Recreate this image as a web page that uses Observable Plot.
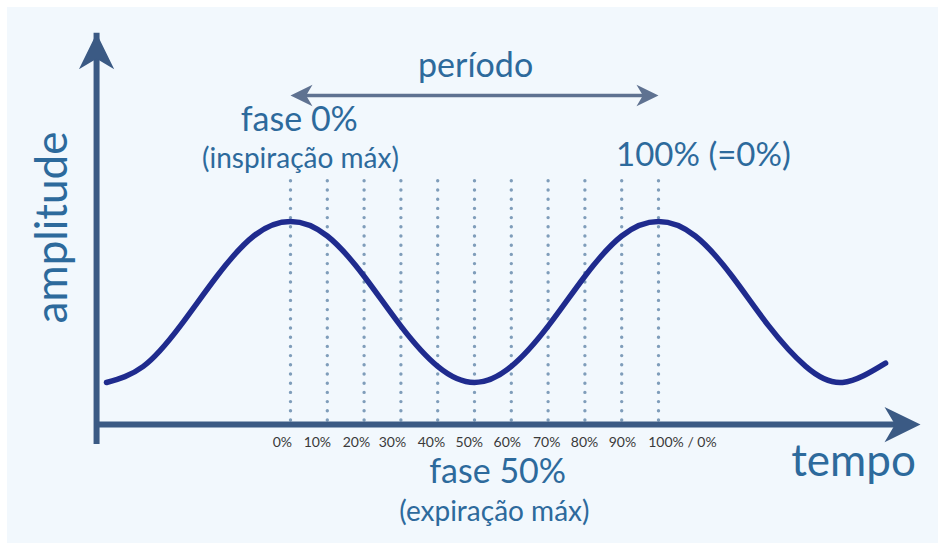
<!DOCTYPE html>
<html><head><meta charset="utf-8">
<script src="https://cdn.jsdelivr.net/npm/d3@7"></script>
<script src="https://cdn.jsdelivr.net/npm/@observablehq/plot@0.6"></script>
<style>
html,body{margin:0;padding:0;background:#fff;}
#chart svg{display:block;}
</style></head><body><div id="chart"></div>
<script>
// Sampled waveform: phase (% of one period, peak at 0% and 100%) and normalized amplitude (trough 0, peak 1)
const phases    = [-50, -40, -30, -20, -10, 0, 10, 20, 30, 40, 50, 60, 70, 80, 90, 100, 110, 120, 130, 140, 150, 161.7];
const amplitude = [0, 0.10, 0.35, 0.66, 0.91, 1, 0.91, 0.66, 0.35, 0.10, 0, 0.10, 0.35, 0.66, 0.91, 1, 0.91, 0.66, 0.35, 0.10, 0, 0.12];

// Phase guides and their labels
const tickPhases  = [0, 10, 20, 30, 40, 50, 60, 70, 80, 90, 100];
const tickLabels  = ["0%", "10%", "20%", "30%", "40%", "50%", "60%", "70%", "80%", "90%", "100% / 0%"];
const labelPhases = [-2.2, 7.3, 17.9, 27.7, 38.3, 48.6, 58.9, 69.6, 79.9, 90.2, 106.5];
const guideSpan   = [-0.236, 1.267];

// Axis frame (phase / amplitude units)
const xAxisSpan = [-52.7, 171.2];
const yAxisSpan = [-0.261, 2.17];
const periodSpan = [0, 100];
const periodLevel = 1.783;

// Annotations
const annTexts  = ["período", "fase 0%", "(inspiração máx)", "100% (=0%)", "fase 50%", "(expiração máx)", "tempo"];
const annPhase  = [50.3, 2.4, 2.7, 112.2, 56.3, 55.4, 153];
const annLevel  = [1.90, 1.565, 1.335, 1.342, -0.627, -0.863, -0.578];
const annSize   = [34, 34, 28, 33, 34, 28, 44];
const yTitle = "amplitude";

const wave = phases.map((p, i) => ({phase: p, amp: amplitude[i]}));
const ticks = tickLabels.map((t, i) => ({phase: labelPhases[i], label: t}));
const anns = annTexts.map((t, i) => ({text: t, phase: annPhase[i], level: annLevel[i], size: annSize[i]}));

const stealth = {
  draw(ctx, size) {
    const r = Math.sqrt(size / Math.PI);
    ctx.moveTo(0, -r);
    ctx.lineTo(0.98 * r, r);
    ctx.lineTo(0, 0.42 * r);
    ctx.lineTo(-0.98 * r, r);
    ctx.closePath();
  }
};

const axisColor = "#3b5a84";
const textColor = "#2d6a9c";

const chart = Plot.plot({
  width: 938,
  height: 544,
  margin: 0,
  x: {type: "linear", domain: [0, 100], range: [290, 658], axis: null},
  y: {type: "linear", domain: [0, 1], range: [382, 221], axis: null},
  style: {fontFamily: "Lato, sans-serif"},
  marks: [
    // dotted phase guides
    Plot.ruleX(tickPhases, {x: d => d, y1: guideSpan[0], y2: guideSpan[1], stroke: "#7f9dba", strokeWidth: 3.4, strokeDasharray: "0 9.2", strokeLinecap: "round"}),
    // axes
    Plot.ruleX([xAxisSpan[0]], {x: d => d, y1: yAxisSpan[0], y2: yAxisSpan[1], stroke: axisColor, strokeWidth: 6, insetTop: 20}),
    Plot.ruleY([yAxisSpan[0]], {y: d => d, x1: xAxisSpan[0], x2: xAxisSpan[1], stroke: axisColor, strokeWidth: 6, insetRight: 20}),
    Plot.dot([{x: xAxisSpan[0], y: yAxisSpan[1]}], {x: "x", y: "y", r: 18, symbol: stealth, fill: axisColor, stroke: "none", dy: 18, rotate: 0}),
    Plot.dot([{x: xAxisSpan[1], y: yAxisSpan[0]}], {x: "x", y: "y", r: 18, symbol: stealth, fill: axisColor, stroke: "none", dx: -18, rotate: 90}),
    // period arrow
    Plot.ruleY([periodLevel], {y: d => d, x1: periodSpan[0], x2: periodSpan[1], stroke: "#5f7291", strokeWidth: 3.5, insetLeft: 10, insetRight: 10}),
    Plot.dot([{x: periodSpan[0], y: periodLevel}], {x: "x", y: "y", r: 11, symbol: stealth, fill: "#5f7291", stroke: "none", dx: 11, rotate: -90}),
    Plot.dot([{x: periodSpan[1], y: periodLevel}], {x: "x", y: "y", r: 11, symbol: stealth, fill: "#5f7291", stroke: "none", dx: -11, rotate: 90}),
    // waveform
    Plot.line(wave, {x: "phase", y: "amp", curve: "natural", stroke: "#1f2b8e", strokeWidth: 5.5, strokeLinecap: "round"}),
    // phase labels
    Plot.text(ticks, {x: "phase", y: -0.398, text: "label", fill: "#3a3a3a", fontSize: 14, lineAnchor: "bottom", textAnchor: "middle"}),
    // annotations
    ...anns.map(a => Plot.text([a], {x: "phase", y: "level", text: "text", fill: textColor, fontSize: a.size, lineAnchor: "bottom", textAnchor: "middle"})),
    Plot.text([yTitle], {x: -60.6, y: 0.963, text: d => d, rotate: -90, fill: textColor, fontSize: 44, lineAnchor: "bottom", textAnchor: "middle"})
  ]
});
chart.style.background = "linear-gradient(#f2f8fd,#f2f8fd) no-repeat 7px 7px / 931px 536px, #ffffff";
document.getElementById("chart").appendChild(chart);
</script>
</body></html>
